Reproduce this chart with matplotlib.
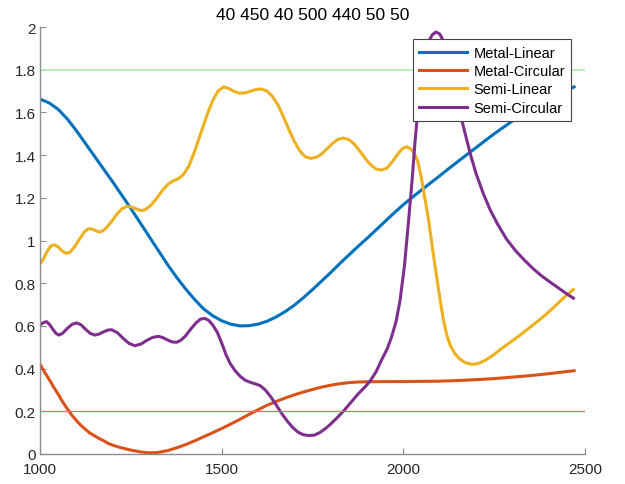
import numpy as np
import matplotlib
matplotlib.use('Agg')
from matplotlib import pyplot as plt

plt.rcParams['font.family'] = ['Liberation Sans', 'DejaVu Sans']

# values
x_ml = [1000, 1025, 1050, 1075, 1100, 1125, 1150, 1175, 1200, 1225, 1250, 1275, 1300, 1325,
        1350, 1375, 1400, 1425, 1450, 1475, 1500, 1525, 1550, 1575, 1600, 1625, 1650, 1675,
        1700, 1725, 1750, 1775, 1800, 1825, 1850, 1875, 1900, 1925, 1950, 1975, 2000, 2025,
        2050, 2075, 2100, 2125, 2150, 2175, 2200, 2225, 2250, 2275, 2300, 2325, 2350, 2375,
        2400, 2425, 2450, 2470]
metal_linear = [1.663, 1.645, 1.615, 1.57, 1.515, 1.455, 1.395, 1.335, 1.275, 1.213, 1.15, 1.085, 1.02, 0.955,
                0.89, 0.83, 0.775, 0.725, 0.68, 0.648, 0.624, 0.608, 0.60, 0.601, 0.608, 0.622, 0.642, 0.667,
                0.697, 0.732, 0.77, 0.81, 0.85, 0.892, 0.932, 0.972, 1.01, 1.05, 1.09, 1.13, 1.168, 1.203,
                1.237, 1.27, 1.303, 1.337, 1.37, 1.403, 1.435, 1.468, 1.50, 1.53, 1.56, 1.588, 1.615, 1.64,
                1.663, 1.683, 1.702, 1.72]

x_mc = [1000, 1012, 1025, 1037, 1050, 1062, 1075, 1087, 1100, 1112, 1125, 1137, 1150, 1162,
        1175, 1187, 1200, 1225, 1250, 1275, 1300, 1325, 1350, 1375, 1400, 1425, 1450, 1475,
        1500, 1525, 1550, 1575, 1600, 1625, 1650, 1675, 1700, 1725, 1750, 1775, 1800, 1825,
        1850, 1875, 1900, 1950, 2000, 2050, 2100, 2150, 2200, 2250, 2300, 2350, 2400, 2450, 2470]
metal_circular = [0.42, 0.385, 0.35, 0.315, 0.28, 0.245, 0.212, 0.183, 0.157, 0.135, 0.115, 0.098, 0.085, 0.073,
                  0.062, 0.05, 0.041, 0.028, 0.018, 0.01, 0.005, 0.007, 0.015, 0.028, 0.043, 0.061, 0.08, 0.099,
                  0.119, 0.14, 0.162, 0.185, 0.207, 0.228, 0.246, 0.262, 0.277, 0.29, 0.302, 0.313, 0.322, 0.329,
                  0.334, 0.337, 0.338, 0.339, 0.339, 0.34, 0.341, 0.344, 0.348, 0.353, 0.36, 0.367, 0.376, 0.386, 0.39]

x_sl = [1000, 1010, 1020, 1030, 1040, 1050, 1060, 1071, 1082, 1095, 1110, 1122, 1133, 1145,
        1157, 1167, 1180, 1195, 1210, 1225, 1239, 1252, 1265, 1278, 1290, 1305, 1320, 1337,
        1353, 1367, 1381, 1395, 1410, 1425, 1440, 1460, 1475, 1490, 1505, 1520, 1535, 1550,
        1565, 1580, 1595, 1610, 1625, 1640, 1655, 1670, 1685, 1700, 1715, 1730, 1745, 1760,
        1775, 1790, 1805, 1820, 1835, 1850, 1865, 1880, 1895, 1910, 1925, 1940, 1955, 1970,
        1985, 1997, 2009, 2020, 2030, 2040, 2050, 2060, 2070, 2083, 2097, 2110, 2120, 2130,
        2142, 2155, 2170, 2188, 2205, 2225, 2245, 2266, 2290, 2320, 2350, 2376, 2400, 2425,
        2450, 2468]
semi_linear = [0.89, 0.915, 0.95, 0.975, 0.98, 0.97, 0.952, 0.94, 0.945, 0.97, 1.01, 1.04, 1.055, 1.053,
               1.043, 1.04, 1.055, 1.085, 1.12, 1.148, 1.16, 1.157, 1.148, 1.14, 1.145, 1.165, 1.195, 1.235,
               1.265, 1.28, 1.29, 1.31, 1.35, 1.415, 1.49, 1.59, 1.655, 1.70, 1.72, 1.712, 1.698, 1.69,
               1.692, 1.70, 1.708, 1.71, 1.70, 1.675, 1.635, 1.58, 1.52, 1.465, 1.42, 1.393, 1.385, 1.39,
               1.405, 1.43, 1.455, 1.474, 1.48, 1.473, 1.452, 1.42, 1.385, 1.355, 1.335, 1.33, 1.34, 1.37,
               1.405, 1.43, 1.44, 1.43, 1.41, 1.37, 1.29, 1.19, 1.09, 0.93, 0.77, 0.63, 0.555, 0.505,
               0.47, 0.445, 0.428, 0.42, 0.423, 0.438, 0.46, 0.488, 0.518, 0.555, 0.595, 0.63, 0.665, 0.705,
               0.745, 0.77]

x_sc = [1000, 1009, 1018, 1027, 1035, 1044, 1052, 1062, 1075, 1088, 1101, 1113, 1125, 1138,
        1151, 1163, 1175, 1186, 1197, 1213, 1230, 1245, 1261, 1278, 1295, 1310, 1326, 1338,
        1350, 1363, 1376, 1388, 1400, 1415, 1430, 1442, 1454, 1465, 1475, 1488, 1500, 1512,
        1523, 1537, 1550, 1565, 1580, 1595, 1606, 1620, 1635, 1650, 1665, 1680, 1695, 1710,
        1725, 1740, 1755, 1770, 1785, 1800, 1818, 1835, 1855, 1875, 1895, 1910, 1925, 1940,
        1955, 1967, 1980, 1991, 2003, 2014, 2024, 2032, 2040, 2048, 2056, 2064, 2072, 2080,
        2090, 2100, 2106, 2115, 2130, 2145, 2160, 2174, 2187, 2200, 2220, 2240, 2260, 2284,
        2310, 2335, 2358, 2380, 2400, 2425, 2450, 2468]
semi_circular = [0.604, 0.615, 0.62, 0.605, 0.585, 0.565, 0.557, 0.565, 0.588, 0.607, 0.614, 0.605, 0.585, 0.565,
                 0.557, 0.562, 0.572, 0.58, 0.582, 0.568, 0.54, 0.518, 0.507, 0.515, 0.533, 0.546, 0.551, 0.545,
                 0.535, 0.525, 0.523, 0.533, 0.552, 0.585, 0.615, 0.632, 0.635, 0.625, 0.605, 0.57, 0.52, 0.465,
                 0.425, 0.39, 0.365, 0.345, 0.335, 0.327, 0.32, 0.30, 0.268, 0.23, 0.19, 0.155, 0.125, 0.102,
                 0.09, 0.086, 0.088, 0.10, 0.118, 0.14, 0.17, 0.20, 0.24, 0.28, 0.315, 0.345, 0.385, 0.44,
                 0.49, 0.545, 0.62, 0.72, 0.88, 1.085, 1.28, 1.46, 1.61, 1.72, 1.82, 1.89, 1.94, 1.965,
                 1.977, 1.968, 1.95, 1.90, 1.78, 1.67, 1.57, 1.475, 1.39, 1.315, 1.22, 1.14, 1.075, 1.007,
                 0.95, 0.905, 0.867, 0.835, 0.81, 0.78, 0.75, 0.73]

upper_level = 1.8
lower_level = 0.2
title_text = '40 450 40 500 440 50 50'

fig = plt.figure(figsize=(6.25, 4.85), dpi=100)
ax = fig.add_axes([0.064, 0.062, 0.872, 0.880])

lw = 2.2
ax.plot(x_ml, metal_linear, color='#0072BD', lw=lw, label='Metal-Linear')
ax.plot(x_mc, metal_circular, color='#D95319', lw=lw, label='Metal-Circular')
ax.plot(x_sl, semi_linear, color='#EDB120', lw=lw, label='Semi-Linear')
ax.plot(x_sc, semi_circular, color='#7E2F8E', lw=lw, label='Semi-Circular')
ax.axhline(upper_level, color='#a8f0a8', lw=1.2)
ax.axhline(lower_level, color='#ff6464', lw=0.9)

ax.set_xlim(1000, 2500)
ax.set_ylim(0, 2)
ax.set_xticks([1000, 1500, 2000, 2500])
yt = np.round(np.arange(0, 2.01, 0.2), 1)
ax.set_yticks(yt)
ax.set_yticklabels(['%g' % v for v in yt])
for s in ['top', 'right']:
    ax.spines[s].set_visible(False)
for s in ['left', 'bottom']:
    ax.spines[s].set_color('#8c8c8c')
    ax.spines[s].set_linewidth(1)
ax.tick_params(direction='in', length=4, color='#8c8c8c', labelcolor='#262626', labelsize=11)
ax.tick_params(axis='x', pad=6)
ax.tick_params(axis='y', pad=3)
ax.set_title(title_text, fontsize=12.5, color='black', pad=6)

leg = ax.legend(loc='upper left', bbox_to_anchor=(0.684, 0.972), fontsize=10.5,
                frameon=True, fancybox=False, framealpha=1, edgecolor='#444444',
                handlelength=3.3, borderpad=0.45, labelspacing=0.3, handletextpad=0.4,
                borderaxespad=0)
leg.get_frame().set_linewidth(0.8)

fig.savefig('out.png', dpi=100)
